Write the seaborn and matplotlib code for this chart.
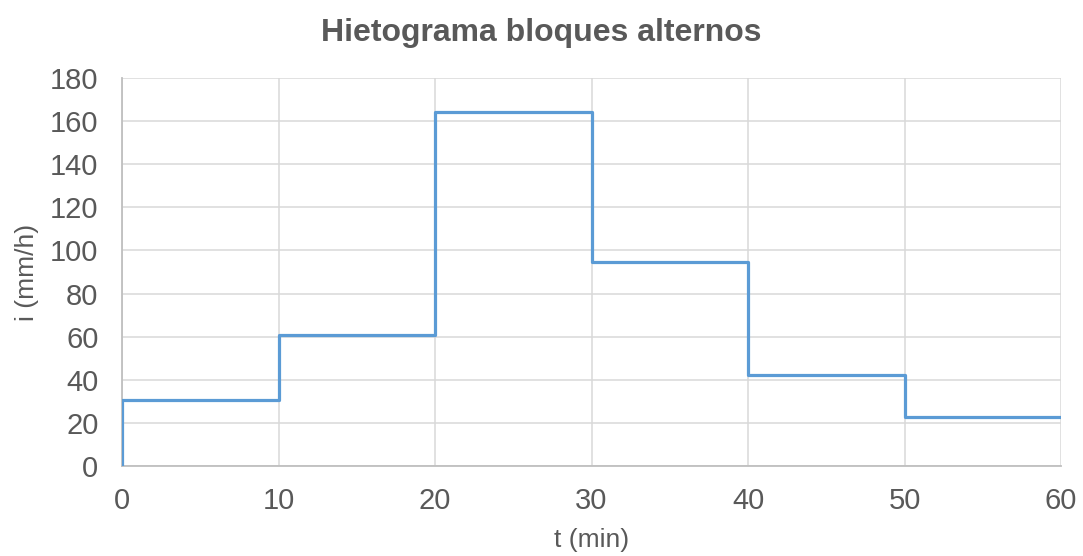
import numpy as np
import pandas as pd
import matplotlib
matplotlib.use("Agg")
import matplotlib.pyplot as plt
import seaborn as sns

# Alternating-block hyetograph: start time of each 10-min block and its intensity
block_start = [0, 10, 20, 30, 40, 50]
intensity = [30.6, 60.8, 164.2, 94.8, 42.1, 23.0]
duration_end = 60

x_ticks = [0, 10, 20, 30, 40, 50, 60]
y_ticks = [0, 20, 40, 60, 80, 100, 120, 140, 160, 180]

# Step outline: rise from zero at t=0, then hold each block's value until the next
t_steps = [block_start[0]] + block_start + [duration_end]
i_steps = [0] + intensity + [intensity[-1]]
df = pd.DataFrame({"t": t_steps, "i": i_steps})

sns.set_theme(style="white")
plt.rcParams["font.family"] = ["Liberation Sans", "DejaVu Sans"]

text_color = "#595959"
grid_color = "#d9d9d9"
line_color = "#5b9bd5"

fig = plt.figure(figsize=(10.83, 5.56), dpi=100)
ax = fig.add_axes([0.1127, 0.1613, 0.8670, 0.6990])

sns.lineplot(data=df, x="t", y="i", ax=ax, sort=False, estimator=None,
             drawstyle="steps-post", color=line_color, linewidth=2.3, zorder=3)

ax.set_xlim(0, 60)
ax.set_ylim(0, 180)
ax.set_xticks(x_ticks)
ax.set_yticks(y_ticks)
ax.grid(True, color=grid_color, linewidth=1.1, zorder=0)
ax.set_axisbelow(True)

for side in ["top", "right"]:
    ax.spines[side].set_visible(False)
for side in ["left", "bottom"]:
    ax.spines[side].set_color("#bfbfbf")
    ax.spines[side].set_linewidth(1.3)

ax.tick_params(axis="both", length=0, labelsize=21, labelcolor=text_color)
ax.tick_params(axis="x", pad=15)
ax.tick_params(axis="y", pad=17)

ax.set_xlabel("t (min)", fontsize=19, color=text_color, labelpad=9)
ax.set_ylabel("i (mm/h)", fontsize=19, color=text_color, labelpad=8)
fig.suptitle("Hietograma bloques alternos", fontsize=23, fontweight="bold",
             color=text_color, y=0.968)

fig.savefig("out.png", dpi=100, facecolor="white")
